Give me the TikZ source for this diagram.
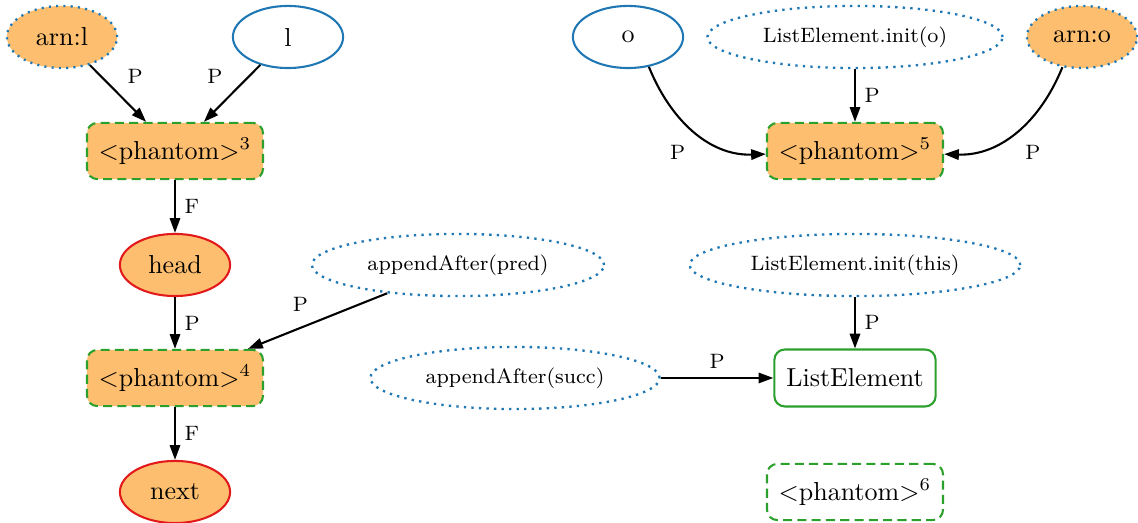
\documentclass[tikz,border=0pt]{standalone}
\usetikzlibrary{shapes.geometric,arrows.meta}
\definecolor{nodeorange}{HTML}{FDBF6F}
\definecolor{objblue}{HTML}{1F77B4}
\definecolor{phgreen}{HTML}{2CA02C}
\definecolor{refred}{HTML}{E31A1C}
\begin{document}
\begin{tikzpicture}[x=0.01352cm, y=-0.01352cm,
    obj/.style={ellipse, draw=objblue, line width=0.8pt, minimum width=1.49cm, minimum height=0.84cm},
    arn/.style={obj, fill=nodeorange, dotted, line width=0.9pt},
    ref/.style={ellipse, draw=refred, fill=nodeorange, line width=0.8pt, minimum width=1.49cm, minimum height=0.84cm},
    call/.style={ellipse, draw=objblue, dotted, line width=0.9pt, minimum height=0.84cm, font=\footnotesize},
    phantom/.style={rectangle, rounded corners=4pt, draw=phgreen, line width=0.8pt, dash pattern=on 3.5pt off 2pt, minimum width=2.38cm, minimum height=0.76cm},
    edge/.style={-{Triangle[length=2mm,width=1.4mm]}, line width=0.8pt},
    lbl/.style={font=\footnotesize}]
    \useasboundingbox (0,0) rectangle (1138,523);

    % linke Seite
    \node[arn] (arnl) at (62,37) {arn:l};
    \node[obj] (l) at (288,37) {l};
    \node[phantom, fill=nodeorange] (ph3) at (175,151) {\textless phantom\textgreater$^{3}$};
    \node[ref] (head) at (175,265) {head};
    \node[call, minimum width=3.95cm] (pred) at (458,265) {appendAfter(pred)};
    \node[phantom, fill=nodeorange] (ph4) at (175,378) {\textless phantom\textgreater$^{4}$};
    \node[ref] (next) at (175,492) {next};

    % rechte Seite
    \node[obj] (o) at (628,37) {o};
    \node[call, minimum width=3.99cm] (inito) at (855,37) {ListElement.init(o)};
    \node[arn] (arno) at (1082,37) {arn:o};
    \node[phantom, fill=nodeorange] (ph5) at (855,151) {\textless phantom\textgreater$^{5}$};
    \node[call, minimum width=4.47cm] (initthis) at (855,265) {ListElement.init(this)};
    \node[call, minimum width=3.91cm] (succ) at (515,378) {appendAfter(succ)};
    \node[rectangle, rounded corners=4pt, draw=phgreen, line width=0.8pt, minimum width=2.18cm, minimum height=0.77cm] (le) at (855,378) {ListElement};
    \node[phantom] (ph6) at (855,492) {\textless phantom\textgreater$^{6}$};

    % Kanten
    \draw[edge] (arnl) -- node[lbl, above right] {P} (ph3);
    \draw[edge] (l) -- node[lbl, above left] {P} (ph3);
    \draw[edge] (ph3) -- node[lbl, right] {F} (head);
    \draw[edge] (head) -- node[lbl, right] {P} (ph4);
    \draw[edge] (pred) -- node[lbl, above left] {P} (ph4);
    \draw[edge] (ph4) -- node[lbl, right] {F} (next);
    \draw[edge] (o.-55) to[out=-68, in=182] node[lbl, pos=0.55, below left, xshift=-2pt] {P} (ph5);
    \draw[edge] (inito) -- node[lbl, right] {P} (ph5);
    \draw[edge] (arno.-123) to[out=-112, in=-2] node[lbl, pos=0.55, below right, xshift=2pt] {P} (ph5);
    \draw[edge] (initthis) -- node[lbl, right] {P} (le);
    \draw[edge] (succ) -- node[lbl, above] {P} (le);
\end{tikzpicture}
\end{document}
